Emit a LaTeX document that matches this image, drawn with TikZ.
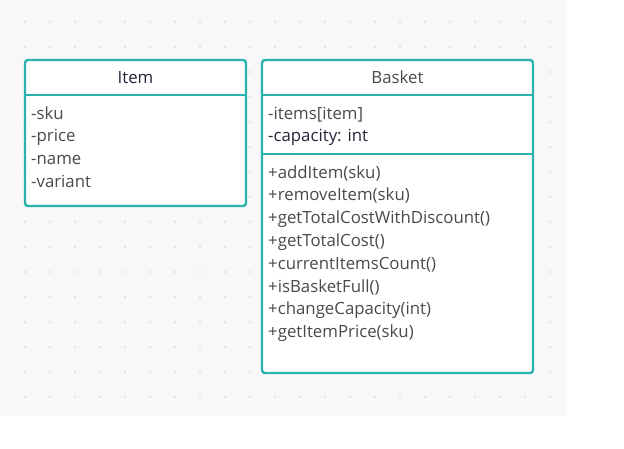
\documentclass[tikz,border=0pt]{standalone}
\usepackage{fontspec}
\setmainfont{Open Sans}
\usetikzlibrary{positioning, calc}
\definecolor{umlteal}{HTML}{2AB3AE}
\definecolor{canvasgray}{HTML}{F8F8FA}
\definecolor{dotgray}{HTML}{E2E2E7}
\definecolor{textgray}{HTML}{4A4A4A}
\definecolor{textdark}{HTML}{24243A}

\begin{document}
\begin{tikzpicture}[x=1pt, y=-1pt,
	                    part/.style={rectangle,
	                                 fill=white,
	                                 inner sep=0pt,
	                                 outer sep=0pt},
	                    frame/.style={draw=umlteal,
	                                  line width=2.4pt,
	                                  rounded corners=3pt},
	                    divider/.style={draw=umlteal,
	                                    line width=2.4pt},
	                    members/.style={anchor=base west,
	                                    align=left,
	                                    inner sep=0pt,
	                                    text=textgray,
	                                    font=\fontsize{16.8}{22.8}\selectfont}]
	\useasboundingbox (0,0) rectangle (624,448);
	\fill[white] (0,0) rectangle (624,448);
	\fill[canvasgray] (0,0) rectangle (567,416);
	\foreach \x in {25,50,...,550}
		\foreach \y in {22,47,...,397}
			\fill[dotgray] (\x,\y) circle (1.3pt);

	% Item class
	\node [part, minimum width=221, minimum height=35, text=textdark, font=\fontsize{16.8}{18}\selectfont] (ItemHead) at (135.5, 77.5) {Item};
	\node [part, minimum width=221, minimum height=111, below=0pt of ItemHead] (ItemAttr) {};
	% base of a multi-line node is its last line
	\node [members] (ItemFields) at ([xshift=6pt, yshift=-92.4pt]ItemAttr.north west) {-sku\\-price\\-name\\-variant};
	\draw[frame] (ItemHead.north west) rectangle (ItemAttr.south east);
	\draw[divider] (ItemHead.south west) -- (ItemHead.south east);

	% Basket class
	\node [part, minimum width=271, minimum height=35, text=textgray, font=\fontsize{16.8}{18}\selectfont] (BasketHead) at (397.5, 77.5) {Basket};
	\node [part, minimum width=271, minimum height=59, below=0pt of BasketHead] (BasketAttr) {};
	\node [part, minimum width=271, minimum height=219, below=0pt of BasketAttr] (BasketOps) {};
	\node [members] (BasketFields) at ([xshift=6pt, yshift=-46.8pt]BasketAttr.north west) {-items[item]\\\textcolor{textdark}{-capacity: int}};
	\node [members] (BasketMethods) at ([xshift=6pt, yshift=-183.6pt]BasketOps.north west) {+addItem(sku)\\+removeItem(sku)\\+getTotalCostWithDiscount()\\+getTotalCost()\\+currentItemsCount()\\+isBasketFull()\\+changeCapacity(int)\\+getItemPrice(sku)};
	\draw[frame] (BasketHead.north west) rectangle (BasketOps.south east);
	\draw[divider] (BasketHead.south west) -- (BasketHead.south east);
	\draw[divider] (BasketAttr.south west) -- (BasketAttr.south east);
\end{tikzpicture}
\end{document}
